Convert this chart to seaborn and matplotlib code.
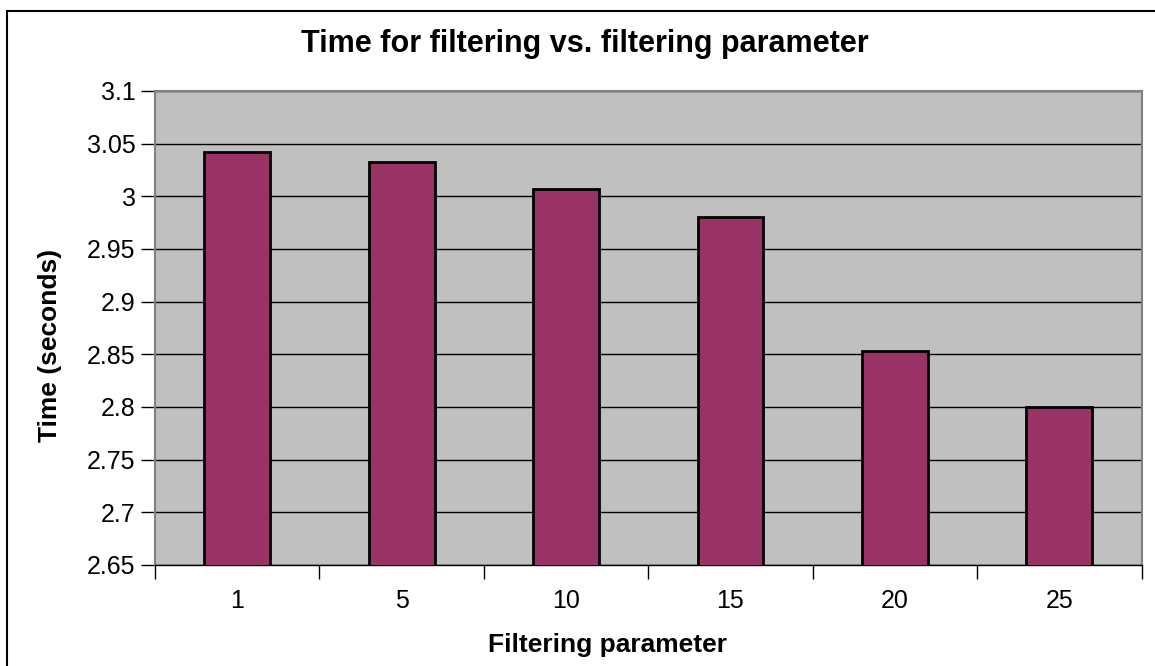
import matplotlib
matplotlib.use("Agg")
import matplotlib.pyplot as plt
import seaborn as sns
import pandas as pd
from matplotlib.patches import Rectangle

# Filtering parameter values and measured run times
params = ["1", "5", "10", "15", "20", "25"]
times = [3.042, 3.033, 3.007, 2.980, 2.853, 2.800]
y_ticks = [2.65, 2.7, 2.75, 2.8, 2.85, 2.9, 2.95, 3.0, 3.05, 3.1]
y_tick_labels = ["2.65", "2.7", "2.75", "2.8", "2.85", "2.9", "2.95", "3", "3.05", "3.1"]

df = pd.DataFrame({"param": params, "time": times})

sns.set_theme(style="white")
plt.rcParams["font.family"] = ["Liberation Sans", "DejaVu Sans"]
plt.rcParams["text.color"] = "black"
plt.rcParams["axes.labelcolor"] = "black"
plt.rcParams["xtick.color"] = "black"
plt.rcParams["ytick.color"] = "black"

W, H = 1155, 666
fig = plt.figure(figsize=(W / 100, H / 100), dpi=100)
ax = fig.add_axes([155 / W, 1 - 565 / H, (1141.5 - 155) / W, (565 - 91) / H])
ax.set_facecolor("#C0C0C0")

sns.barplot(data=df, x="param", y="time", order=params, color="#993366",
            saturation=1, width=0.40, edgecolor="black", linewidth=2, ax=ax, zorder=3)

ax.set_ylim(2.65, 3.1)
ax.set_xlim(-0.5, len(params) - 0.5)
ax.set_yticks(y_ticks)
ax.set_yticklabels(y_tick_labels)
ax.yaxis.grid(True, color="black", linewidth=1)
ax.set_axisbelow(True)

# x ticks sit between the categories, labels in the middle
ax.set_xticks([i - 0.5 for i in range(len(params) + 1)], minor=False)
ax.set_xticklabels([""] * (len(params) + 1))
ax.set_xticks(range(len(params)), minor=True)
ax.set_xticklabels(params, minor=True)
ax.tick_params(axis="x", which="major", direction="out", length=10, width=1, color="black", bottom=True)
ax.tick_params(axis="x", which="minor", length=0, pad=17, labelsize=18, labelcolor="black")
ax.tick_params(axis="y", direction="out", length=10, width=1, color="black", left=True,
               labelsize=18, pad=4, labelcolor="black")

for side in ["left", "top", "right"]:
    ax.spines[side].set_color("#808080")
    ax.spines[side].set_linewidth(1.5)
ax.spines["bottom"].set_color("black")
ax.spines["bottom"].set_linewidth(1)

ax.set_xlabel("Filtering parameter", fontsize=19, fontweight="bold", color="black", va="center")
ax.set_ylabel("Time (seconds)", fontsize=19, fontweight="bold", color="black", va="center")
ax.xaxis.set_label_coords(608 / W, 1 - 645 / H, transform=fig.transFigure)
ax.yaxis.set_label_coords(50 / W, 1 - 345 / H, transform=fig.transFigure)

fig.text(585 / W, 1 - 44 / H, "Time for filtering vs. filtering parameter",
         ha="center", va="center", fontsize=22, fontweight="bold", color="black")

# outer chart border
fig.patches.append(Rectangle((7 / W, -0.1), 1.2, 1 - 11 / H + 0.1,
                             transform=fig.transFigure, fill=False,
                             edgecolor="black", linewidth=1.5))

fig.savefig("out.png", dpi=100)
